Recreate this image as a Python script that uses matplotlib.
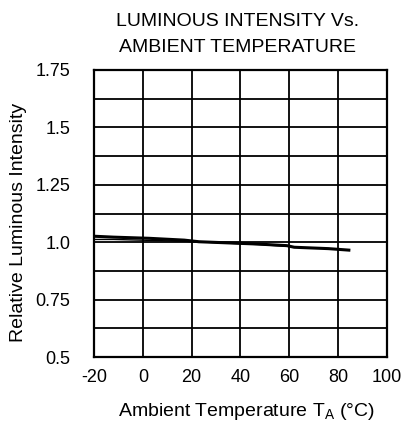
import matplotlib.pyplot as plt
import numpy as np

# curve values
temp = [-20, -12, 2.5, 17, 23, 47, 59, 62, 76, 85]
rel_upper = [1.026, 1.022, 1.017, 1.009, 1.002, 0.992, 0.985, 0.978, 0.972, 0.965]
temp_lower = [-20, -12, 2.5, 17, 30, 47, 59]
rel_lower = [1.012, 1.012, 1.008, 1.004, 0.998, 0.990, 0.982]

x_ticks = [-20, 0, 20, 40, 60, 80, 100]
x_tick_labels = ['-20', '0', '20', '40', '60', '80', '100']
y_ticks = [0.5, 0.75, 1.0, 1.25, 1.5, 1.75]
y_tick_labels = ['0.5', '0.75', '1.0', '1.25', '1.5', '1.75']

plt.rcParams['font.family'] = ['Liberation Sans', 'DejaVu Sans']
fs_tick = 13
fs_text = 14

fig = plt.figure(figsize=(4.06, 4.26), dpi=100)
ax = fig.add_axes([94/406, 69/426, 293/406, 287/426])

ax.plot(temp, rel_upper, color='black', lw=2.2, solid_capstyle='butt')
ax.plot(temp_lower, rel_lower, color='black', lw=1.0, solid_capstyle='butt')

ax.set_xlim(-20, 100)
ax.set_ylim(0.5, 1.75)
ax.set_xticks(x_ticks)
ax.set_xticklabels(x_tick_labels)
ax.set_yticks(y_ticks)
ax.set_yticklabels(y_tick_labels)
ax.set_xticks(np.arange(-20, 101, 20), minor=True)
ax.set_yticks(np.arange(0.5, 1.76, 0.125), minor=True)
ax.grid(True, which='both', color='black', lw=1.3)
ax.tick_params(which='both', length=0, labelsize=fs_tick)
ax.tick_params(axis='x', pad=9)
ax.tick_params(axis='y', pad=17)
for s in ax.spines.values():
    s.set_linewidth(1.6)

fig.text(238/406, 1 - 22/426, 'LUMINOUS INTENSITY Vs.', fontsize=fs_text, ha='center', va='center')
fig.text(238/406, 1 - 47/426, 'AMBIENT TEMPERATURE', fontsize=fs_text, ha='center', va='center')
fig.text(246/406, 1 - 411/426, r'Ambient Temperature T$_\mathregular{A}$ (°C)', fontsize=fs_text,
         ha='center', va='center')
fig.text(19/406, 1 - 222/426, 'Relative Luminous Intensity', fontsize=fs_text, rotation=90,
         ha='center', va='center')

fig.savefig('out.png', dpi=100)
